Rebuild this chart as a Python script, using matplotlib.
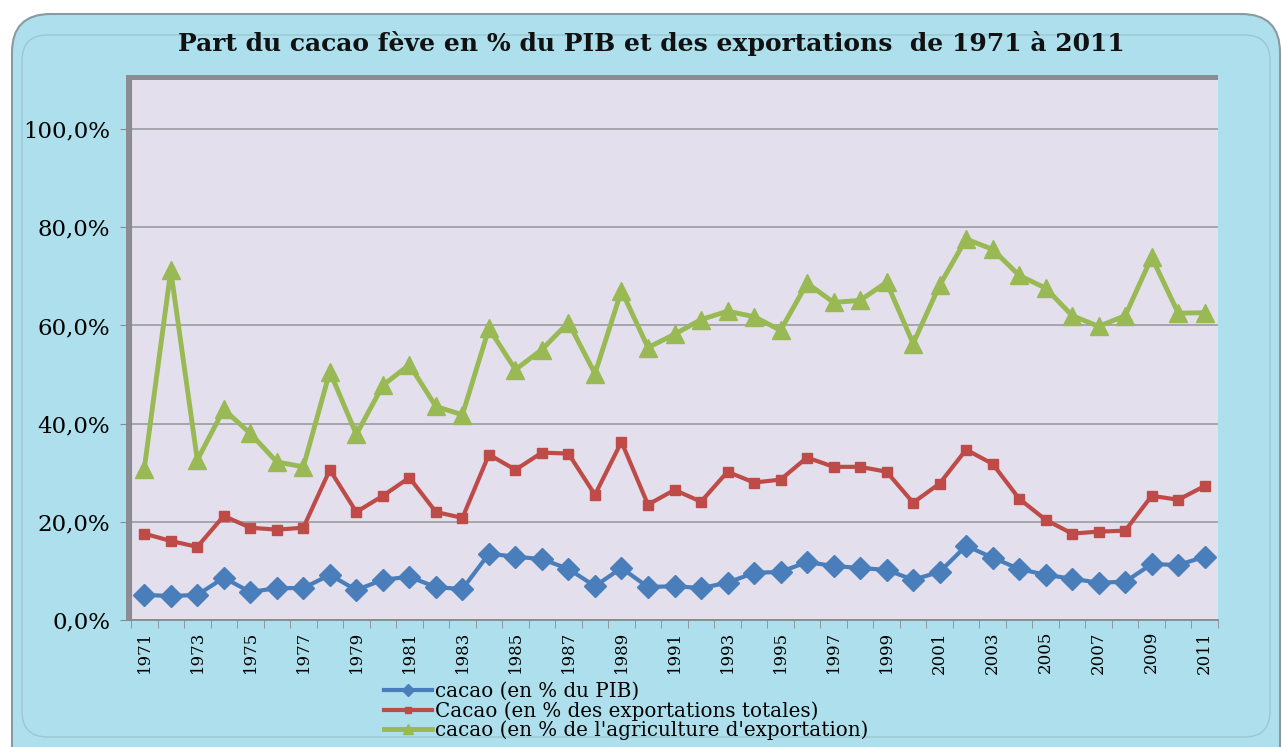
import matplotlib
matplotlib.use("Agg")
import matplotlib.pyplot as plt
from matplotlib.patches import FancyBboxPatch, Rectangle
from matplotlib.ticker import FixedLocator, FuncFormatter
import numpy as np

years = list(range(1971, 2012))
pib = [5.1, 4.9, 5.1, 8.6, 5.7, 6.5, 6.5, 9.2, 6.1, 8.2, 8.8, 6.7, 6.3, 13.5, 12.9,
       12.4, 10.4, 6.9, 10.6, 6.7, 6.9, 6.5, 7.6, 9.6, 9.8, 11.8, 11.0, 10.6, 10.2,
       8.2, 9.8, 15.1, 12.7, 10.4, 9.2, 8.4, 7.6, 7.8, 11.4, 11.2, 12.9]
export_tot = [17.6, 16.1, 14.9, 21.2, 18.8, 18.4, 18.8, 30.6, 22.0, 25.3, 29.0, 22.0,
              20.8, 33.7, 30.6, 34.1, 33.9, 25.5, 36.3, 23.5, 26.5, 24.1, 30.2, 28.0,
              28.6, 33.1, 31.2, 31.2, 30.2, 23.9, 27.8, 34.7, 31.8, 24.7, 20.4, 17.6,
              18.0, 18.2, 25.3, 24.5, 27.3]
agri_exp = [30.8, 71.2, 32.6, 42.9, 38.0, 32.2, 31.2, 50.6, 37.8, 47.8, 52.0, 43.5,
            41.8, 59.4, 51.0, 55.1, 60.6, 50.2, 67.1, 55.5, 58.2, 61.2, 62.9, 61.8,
            59.0, 68.6, 64.7, 65.1, 68.8, 56.3, 68.2, 77.6, 75.5, 70.2, 67.6, 62.0,
            59.8, 62.0, 73.9, 62.5, 62.6]
labels = ["cacao (en % du PIB)",
          "Cacao (en % des exportations totales)",
          "cacao (en % de l'agriculture d'exportation)"]
title = "Part du cacao fève en % du PIB et des exportations  de 1971 à 2011"
yticks = [0, 20, 40, 60, 80, 100]

W, H = 1282, 747
fig = plt.figure(figsize=(W / 100, H / 100), dpi=100)
fig.patch.set_facecolor("white")
serif = ["DejaVu Serif"]

# chart background (rounded light-blue box)
bg = FancyBboxPatch((12 / W, -0.05), (1268 / W), (747 - 14) / H + 0.05,
                    boxstyle="round,pad=0,rounding_size=0.03",
                    transform=fig.transFigure, facecolor="#ade0ec",
                    edgecolor="#8a9aa0", linewidth=1.5, zorder=-2,
                    mutation_aspect=W / H)
fig.patches.append(bg)
inner = FancyBboxPatch((22 / W, 10 / H), (1248 / W), (747 - 35) / H - 10 / H,
                       boxstyle="round,pad=0,rounding_size=0.02",
                       transform=fig.transFigure, facecolor="none",
                       edgecolor="#9cc7d2", linewidth=1.0, zorder=-1,
                       mutation_aspect=W / H)
fig.patches.append(inner)

left, right, top, bottom = 131, 1218, 80, 620
ax = fig.add_axes([left / W, 1 - bottom / H, (right - left) / W, (bottom - top) / H])
ax.set_zorder(2)
ax.set_facecolor("#e4dfec")

# shadow at left/top of plot area
fig.patches.append(Rectangle(((left - 5) / W, 1 - bottom / H), 5 / W, (bottom - top + 5) / H,
                             transform=fig.transFigure, facecolor="#8c8c94",
                             edgecolor="none", zorder=1))
fig.patches.append(Rectangle(((left - 5) / W, 1 - top / H), (right - left + 5) / W, 5 / H,
                             transform=fig.transFigure, facecolor="#8c8c94",
                             edgecolor="none", zorder=1))

x = np.arange(len(years))
ax.plot(x, pib, color="#4a7ebb", lw=3, marker="D", ms=11, zorder=5)
ax.plot(x, export_tot, color="#be4b48", lw=3, marker="s", ms=7, zorder=5)
ax.plot(x, agri_exp, color="#98b954", lw=3.5, marker="^", ms=13, zorder=5)

ax.set_xlim(-0.5, len(years) - 0.5)
ax.set_ylim(0, 110)
ax.yaxis.set_major_locator(FixedLocator(yticks))
ax.yaxis.set_major_formatter(FuncFormatter(lambda v, p: f"{v:.1f}%".replace(".", ",")))
ax.grid(axis="y", color="#a0a0a8", lw=1.3)
ax.set_axisbelow(True)

ax.set_xticks(x[::2])
ax.set_xticklabels([str(y) for y in years[::2]], rotation=90, family=serif, fontsize=12)
ax.set_xticks(np.arange(-0.5, len(years)), minor=True)
ax.tick_params(axis="x", which="major", length=0, pad=8)
ax.tick_params(axis="x", which="minor", length=6, color="#8a8a8a", direction="out")
ax.tick_params(axis="y", length=8, color="#8a8a8a", pad=7)
for lab in ax.get_yticklabels():
    lab.set_family(serif)
    lab.set_fontsize(16.5)

for s in ["top", "right"]:
    ax.spines[s].set_visible(False)
ax.spines["left"].set_color("#8a8a8a")
ax.spines["bottom"].set_color("#8a8a8a")
ax.spines["bottom"].set_linewidth(1.3)

fig.text(651 / W, 1 - 43 / H, title, ha="center", va="center",
         family=serif, fontsize=18, fontweight="bold", color="#111111")

leg = fig.legend(ax.get_lines(), labels, loc="upper left",
                 bbox_to_anchor=(374 / W, 1 - 672 / H), frameon=False,
                 prop={"family": serif, "size": 14.3}, handlelength=2.4,
                 handletextpad=0.15, labelspacing=0.0, borderpad=0,
                 markerscale=0.6)

fig.savefig("out.png", dpi=100)
